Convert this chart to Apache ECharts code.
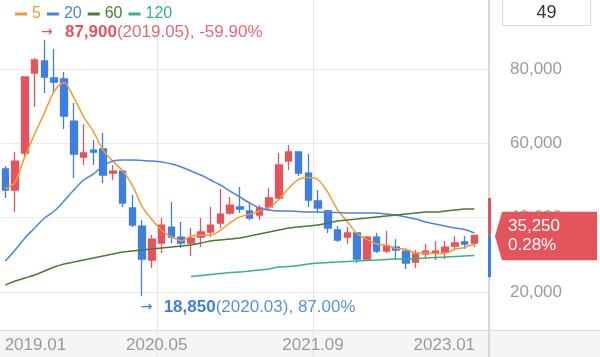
<!DOCTYPE html>
<html><head><meta charset="utf-8">
<script src="https://cdn.jsdelivr.net/npm/echarts@6/dist/echarts.min.js"></script>
<style>html,body{margin:0;padding:0;background:#fff}#c{width:600px;height:357px}</style>
</head><body><div id="c"></div><script>
const categories = ['2019.01','2019.02','2019.03','2019.04','2019.05','2019.06','2019.07','2019.08','2019.09','2019.10','2019.11','2019.12',
 '2020.01','2020.02','2020.03','2020.04','2020.05','2020.06','2020.07','2020.08','2020.09','2020.10','2020.11','2020.12',
 '2021.01','2021.02','2021.03','2021.04','2021.05','2021.06','2021.07','2021.08','2021.09','2021.10','2021.11','2021.12',
 '2022.01','2022.02','2022.03','2022.04','2022.05','2022.06','2022.07','2022.08','2022.09','2022.10','2022.11','2022.12',
 '2023.01'];
const opens = [53090,47440,57400,78920,82150,77580,77310,66000,56320,58200,
 58470,52010,52550,42600,37750,28600,33180,37480,34790,33180,
 34790,36140,38560,41250,42870,41790,40710,42870,45290,55240,
 57670,52010,44480,41790,36680,34790,35870,28870,34790,31020,
 32100,31020,28060,30220,30490,30750,32370,33450,33180];
const closes = [47440,55240,77850,82420,77850,76500,67350,57130,57400,57670,
 51470,52550,43940,38020,28870,34250,38020,34790,33180,34520,
 36140,38020,40980,43400,42330,39900,42600,45290,54170,57670,
 52010,44750,42600,37210,33980,35870,28870,34790,31020,32370,
 31290,27790,30220,31020,31020,32100,33180,32910,35250];
const lows = [45290,41520,56050,69770,73540,73540,63850,50670,54170,54170,
 49320,50130,42870,37480,18850,26450,30490,33180,31830,29680,
 32100,34790,37210,40710,41250,39370,39370,42060,44750,52820,
 51200,42870,41250,35870,33450,32910,27790,28600,30490,30490,
 28600,26180,26450,28870,28600,28870,31290,31560,32100];
const highs = [53900,57670,78000,82960,87900,85380,79190,70850,65200,60900,
 62780,54170,52820,46090,39370,35330,39900,44210,38830,37210,
 39900,42870,47710,45560,48250,43940,43400,47980,57400,59550,
 57670,57130,47440,42060,37750,37480,35870,35060,35870,36400,
 34250,31290,31290,32910,33720,33720,35060,35060,35250];
const ma5 = [47700,49600,56500,62500,68200,74000,76400,72300,67200,63200,
 58200,55200,52600,48700,43000,39500,36600,34800,33800,35000,
 35300,35300,36600,38600,40200,40900,41800,42700,44900,47900,
 50300,50800,50200,46800,42100,38900,35700,34100,32900,32600,
 31700,31500,30500,30500,30300,30400,31500,32000,32900];
const ma20 = [28330,31290,34520,37210,39900,41790,44480,47440,50130,51740,
 53900,55240,55510,55510,55380,55240,54970,54440,53630,52550,
 51470,50130,48790,47170,45560,43940,42600,42060,41790,41790,
 41650,41520,41520,41380,41380,41250,41250,41250,41250,40980,
 40710,40170,39640,38830,38290,37750,37210,36810,35870];
const ma60 = [21880,22950,23760,24570,25640,26720,27530,28060,28600,29140,
 29680,30220,30750,31020,31290,31560,31830,32100,32370,32640,
 33180,33720,33980,34250,34520,35060,35600,36140,36680,37210,
 37480,37750,38020,38560,39100,39370,39640,39900,40170,40440,
 40710,40980,41250,41520,41520,41790,42060,42330,42330];
const ma120 = [null,null,null,null,null,null,null,null,null,null,
 null,null,null,null,null,null,null,null,null,
 24160,24430,24700,24970,25240,25370,25640,25910,26180,26720,26850,
 27120,27530,27790,27930,28060,28200,28330,28470,28600,28740,
 28870,28870,29010,29140,29280,29410,29550,29680,29810];
const yTicks = [0, 100000, 20000];           // min, max, interval of the price axis
const xLabelEvery = 16;                      // a date label every 16 months
const lastChangePct = '0.28%';
const sideBarRange = [24000, 45300];

const RED = '#e3545d', BLUE = '#3f7fe0';
const C5 = '#f59a2c', C20 = '#4b83e3', C60 = '#4a7a34', C120 = '#35b57c';
const FONT = '"Liberation Sans", Arial, sans-serif';
const ARROW_FONT = '"DejaVu Sans", sans-serif';
const fmt = v => v.toLocaleString('en-US');

const candleData = categories.map((c, i) => [opens[i], closes[i], lows[i], highs[i]]);
const axisCats = categories.concat(['']);
let maxIdx = 0, minIdx = 0;
highs.forEach((h, i) => { if (h > highs[maxIdx]) maxIdx = i; });
lows.forEach((l, i) => { if (l < lows[minIdx]) minIdx = i; });
const last = closes[closes.length - 1];
const maxPct = ((last - highs[maxIdx]) / highs[maxIdx] * 100).toFixed(2);
const minPct = ((last - lows[minIdx]) / lows[minIdx] * 100).toFixed(2);

const chart = echarts.init(document.getElementById('c'), null, {renderer: 'canvas'});
const lineSeries = (name, data, color) => ({
  type: 'line', name, data, color, xAxisIndex: 0, yAxisIndex: 0,
  showSymbol: false, symbol: 'none', smooth: 0.3, connectNulls: false,
  lineStyle: {color, width: 1.5}, z: 3, silent: true
});

chart.setOption({
  animation: false,
  backgroundColor: '#fff',
  textStyle: {fontFamily: FONT},
  legend: {
    left: 15, top: 6, icon: 'rect', itemWidth: 12, itemHeight: 3, itemGap: 6, padding: 0,
    textStyle: {fontSize: 16, fontFamily: FONT},
    data: [
      {name: '5', textStyle: {color: C5}},
      {name: '20', textStyle: {color: C20}},
      {name: '60', textStyle: {color: C60}},
      {name: '120', textStyle: {color: C120}}
    ],
    selectedMode: false
  },
  grid: [
    {left: 0.5, width: 488.5, top: -5.33, height: 371.67, outerBoundsMode: 'none', containLabel: false},
    {left: 0.5, width: 488.5, top: 330, height: 1, outerBoundsMode: 'none', containLabel: false}
  ],
  xAxis: [
    {type: 'category', gridIndex: 0, data: axisCats, boundaryGap: true,
     axisLine: {show: false}, axisTick: {show: false}, axisLabel: {show: false},
     splitLine: {show: true, interval: (i) => i === xLabelEvery || i === 2 * xLabelEvery,
       lineStyle: {color: '#e6e6e6', width: 1}}},
    {type: 'category', gridIndex: 1, data: axisCats, boundaryGap: true,
     axisLine: {show: false}, axisTick: {show: false}, splitLine: {show: false},
     axisLabel: {
       margin: 6, interval: (i) => i % xLabelEvery === 0 && i < categories.length,
       fontSize: 17, color: '#9a9a9a', fontFamily: FONT,
       formatter: (v, i) => i === 0 ? '{f|' + v + '}' : (i === categories.length - 1 ? '{l|' + v + '}' : '{m|' + v + '}'),
       rich: {
         f: {fontSize: 17, color: '#9a9a9a', fontFamily: FONT, padding: [0, 0, 0, 60]},
         l: {fontSize: 17, color: '#9a9a9a', fontFamily: FONT, padding: [0, 60, 0, 0]},
         m: {fontSize: 17, color: '#9a9a9a', fontFamily: FONT, padding: [0, 10, 0, 0]}
       }
     }}
  ],
  yAxis: [
    {type: 'value', gridIndex: 0, position: 'right', min: yTicks[0], max: yTicks[1], interval: yTicks[2],
     axisLine: {show: true, lineStyle: {color: '#cfcfcf', width: 1.5}},
     axisTick: {show: false},
     axisLabel: {margin: 21, fontSize: 17, color: '#9a9a9a', fontFamily: FONT, showMinLabel: false, showMaxLabel: false,
       formatter: v => fmt(v)},
     splitLine: {show: true, lineStyle: {color: '#ebebeb', width: 1}}},
    {type: 'value', gridIndex: 1, show: false}
  ],
  series: [
    {type: 'candlestick', name: 'price', data: candleData, xAxisIndex: 0, yAxisIndex: 0,
     barWidth: 7,
     itemStyle: {color: RED, color0: BLUE, borderColor: RED, borderColor0: BLUE, borderWidth: 1.3},
     markPoint: {
       symbol: 'circle', symbolSize: 1, itemStyle: {color: 'rgba(0,0,0,0)'}, silent: true,
       data: [
         {coord: [maxIdx, highs[maxIdx]], label: {show: true, position: [-3, -7], align: 'left', verticalAlign: 'middle',
           formatter: '{a|→}{b|' + fmt(highs[maxIdx]) + '}{c|(' + categories[maxIdx] + '), ' + maxPct + '%}',
           rich: {a: {color: RED, fontSize: 14, width: 24, fontFamily: ARROW_FONT},
                  b: {color: RED, fontSize: 17, fontWeight: 'bold', fontFamily: FONT},
                  c: {color: '#e46a72', fontSize: 17, fontFamily: FONT}}}},
         {coord: [minIdx, lows[minIdx]], label: {show: true, position: [-1, 12], align: 'left', verticalAlign: 'middle',
           formatter: '{a|→}{b|' + fmt(lows[minIdx]) + '}{c|(' + categories[minIdx] + '), ' + minPct + '%}',
           rich: {a: {color: BLUE, fontSize: 14, width: 23, fontFamily: ARROW_FONT},
                  b: {color: BLUE, fontSize: 17, fontWeight: 'bold', fontFamily: FONT},
                  c: {color: '#5a8fe4', fontSize: 17, fontFamily: FONT}}}}
       ]
     }},
    lineSeries('5', ma5, C5),
    lineSeries('20', ma20, C20),
    lineSeries('60', ma60, C60),
    lineSeries('120', ma120, C120)
  ]
});

const yPix = v => chart.convertToPixel({yAxisIndex: 0}, v);
const cy = yPix(last);
const yTop = yPix(sideBarRange[1]), yBot = yPix(sideBarRange[0]);
chart.setOption({
  graphic: [
    {type: 'rect', z: -100, silent: true, shape: {x: 0, y: 330, width: 600, height: 27}, style: {fill: '#f5f5f5'}},
    {type: 'line', z: 10, silent: true, shape: {x1: 0, y1: 330.5, x2: 600, y2: 330.5}, style: {stroke: '#dedede', lineWidth: 1}},
    {type: 'rect', z: 10, silent: true, shape: {x: 488, y: yTop, width: 3, height: cy - yTop}, style: {fill: RED}},
    {type: 'rect', z: 10, silent: true, shape: {x: 488, y: cy, width: 3, height: yBot - cy}, style: {fill: BLUE}},
    {type: 'polygon', z: 20, silent: true,
     shape: {points: [[495, cy + 1], [502, cy - 23.5], [597, cy - 23.5], [597, cy + 25], [502, cy + 25]]},
     style: {fill: RED}},
    {type: 'text', z: 21, silent: true, style: {x: 508, y: cy - 9.5, text: fmt(last), fill: '#fff', fontSize: 17, fontFamily: FONT, verticalAlign: 'middle'}},
    {type: 'text', z: 21, silent: true, style: {x: 508, y: cy + 10, text: lastChangePct, fill: '#fff', fontSize: 17, fontFamily: FONT, verticalAlign: 'middle'}},
    {type: 'rect', z: 20, silent: true, shape: {x: 502.5, y: -1, width: 88, height: 26.5}, style: {fill: '#fff', stroke: '#d8d8d8', lineWidth: 1}},
    {type: 'text', z: 21, silent: true, style: {x: 546.5, y: 13, text: String(categories.length), fill: '#333', fontSize: 18, fontFamily: FONT, align: 'center', verticalAlign: 'middle'}}
  ]
});
</script></body></html>
